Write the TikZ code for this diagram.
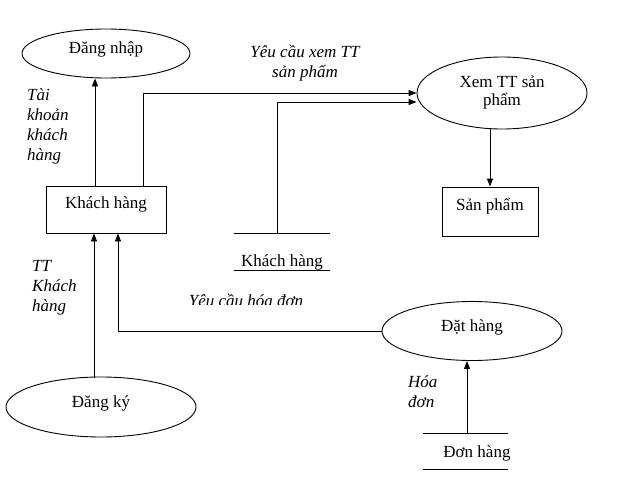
\documentclass[tikz,border=0pt]{standalone}
\usepackage{fontspec}
\setmainfont{Liberation Serif}
\usetikzlibrary{arrows.meta,shapes.geometric}
\begin{document}
\begin{tikzpicture}[x=1pt,y=-1pt,
 every node/.style={font=\fontsize{17}{20}\selectfont},
 proc/.style={draw, ellipse, inner sep=0pt, line width=0.9pt, text height=12pt, text depth=12pt},
 proc2/.style={draw, ellipse, inner sep=0pt, line width=0.9pt, align=center, font=\fontsize{17}{18}\selectfont},
 ent/.style={draw, rectangle, inner sep=0pt, line width=0.9pt, text height=12pt, text depth=14pt},
 lbl/.style={font=\fontsize{17}{20}\selectfont\itshape, inner sep=0pt, align=left},
 arr/.style={-{Triangle[length=8pt,width=6pt]}, line width=0.9pt},
 ln/.style={line width=0.9pt}]
\useasboundingbox[fill=white] (0,0) rectangle (621,490);

% processes and entities
\node[proc, minimum width=168pt, minimum height=49pt] (dn) at (106,53.5) {Đăng nhập};
\node[ent, minimum width=120pt, minimum height=47pt] (kh) at (106,209.5) {Khách hàng};
\node[proc2, minimum width=170pt, minimum height=72pt] (xem) at (502,93) {Xem TT sản\\phẩm};
\node[ent, minimum width=96pt, minimum height=49pt] (sp) at (490,211.5) {Sản phẩm};
\node[proc, minimum width=180pt, minimum height=59pt] (dh) at (472,331) {Đặt hàng};
\node[proc, minimum width=190pt, minimum height=60pt] (dk) at (101,407) {Đăng ký};

% data store: Khach hang
\coordinate (s1a) at (234,233); \coordinate (s1b) at (330,233);
\coordinate (s1c) at (234,270); \coordinate (s1d) at (330,270);
\draw[ln] (s1a) -- (s1b);
\draw[ln] (s1c) -- (s1d);
\node (s1) at (282,262.5) {Khách hàng};
\coordinate (s1t) at (277,233);

% data store: Don hang
\coordinate (s2a) at (423,433); \coordinate (s2b) at (508,433);
\coordinate (s2c) at (423,469); \coordinate (s2d) at (508,469);
\draw[ln] (s2a) -- (s2b);
\draw[ln] (s2c) -- (s2d);
\node (s2) at (477,453) {Đơn hàng};
\coordinate (s2t) at (467,433);

% connectors
\draw[arr] ([xshift=-11pt]kh.north) -- ([xshift=-11pt]kh.north |- dn.south);
\draw[arr] ([xshift=37pt]kh.north) |- (xem.west);
\draw[arr] (s1t) |- ([yshift=-9pt]xem.west);
\draw[arr] (sp.north |- xem.south) -- (sp.north);
\draw[arr] (dh.west) -| ([xshift=12pt]kh.south);
\draw[arr] ([xshift=-12pt]kh.south |- dk.north) -- ([xshift=-12pt]kh.south);
\draw[arr] (s2t) -- (s2t |- dh.south);

% labels
\node[lbl, anchor=west] (l1) at (27,126) {Tài\\khoản\\khách\\hàng};
\node[lbl, align=center] (l2) at (305,63) {Yêu cầu xem TT\\sản phẩm};
\node[lbl, anchor=west] (l3) at (32,288) {TT\\Khách\\hàng};
\node[lbl, anchor=west] (l4) at (408,392) {Hóa\\đơn};
\begin{scope}
\clip (170,285) rectangle (350,304);
\node[lbl, anchor=base] (l5) at (246,306) {Yêu cầu hóa đơn};
\end{scope}
\end{tikzpicture}
\end{document}
